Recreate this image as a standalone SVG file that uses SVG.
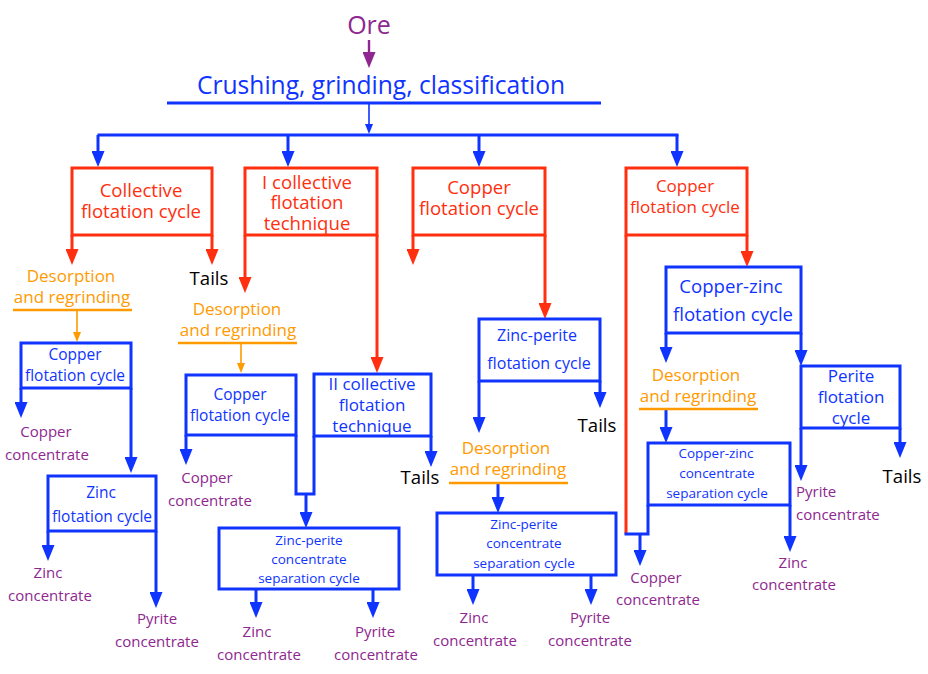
<svg xmlns="http://www.w3.org/2000/svg" width="928" height="674" viewBox="0 0 928 674">
<defs>
<style>
text{font-family:"Open Sans","Noto Sans","DejaVu Sans",sans-serif;text-anchor:middle}
.red{stroke:#FF2F0F;stroke-width:3;fill:none}
.blue{stroke:#1034FF;stroke-width:3;fill:none}
.bthin{stroke:#1034FF;stroke-width:1.6;fill:none}
.org{stroke:#FF9A00;stroke-width:2.6;fill:none}
.othin{stroke:#FF9A00;stroke-width:1.6;fill:none}
.pur{stroke:#8E278F;stroke-width:2.4;fill:none}
.tr{fill:#FF2F0F}
.tb{fill:#1034FF}
.to{fill:#FF9A00}
.tp{fill:#8E278F}
.tk{fill:#000}
.f19{font-size:18.6px}
.f17{font-size:17px}
.f16{font-size:16px}
.f15{font-size:15.5px}
.f13{font-size:13.5px}
.f15p{font-size:15px}
</style>
<marker id="ab" markerUnits="userSpaceOnUse" markerWidth="16" markerHeight="13" viewBox="0 0 16 13" refX="10" refY="6.5" orient="auto"><path d="M0,0 L16,6.5 L0,13 z" fill="#1034FF"/></marker>
<marker id="ar" markerUnits="userSpaceOnUse" markerWidth="16" markerHeight="13" viewBox="0 0 16 13" refX="10" refY="6.5" orient="auto"><path d="M0,0 L16,6.5 L0,13 z" fill="#FF2F0F"/></marker>
<marker id="ap" markerUnits="userSpaceOnUse" markerWidth="16" markerHeight="13" viewBox="0 0 16 13" refX="10" refY="6.5" orient="auto"><path d="M0,0 L16,6.5 L0,13 z" fill="#8E278F"/></marker>
<marker id="abs" markerUnits="userSpaceOnUse" markerWidth="10" markerHeight="8" viewBox="0 0 10 8" refX="6" refY="4" orient="auto"><path d="M0,0 L10,4 L0,8 z" fill="#1034FF"/></marker>
<marker id="aos" markerUnits="userSpaceOnUse" markerWidth="10" markerHeight="8" viewBox="0 0 10 8" refX="6" refY="4" orient="auto"><path d="M0,0 L10,4 L0,8 z" fill="#FF9A00"/></marker>
</defs>
<rect width="928" height="674" fill="#fff"/>

<g id="connectors">
<path class="pur" d="M369,40 V62" marker-end="url(#ap)"/>
<path class="bthin" d="M369,103 V130" marker-end="url(#abs)"/>
<path class="blue" d="M97.5,135 H678.5"/>
<path class="blue" d="M98,135 V161" marker-end="url(#ab)"/>
<path class="blue" d="M288,135 V161" marker-end="url(#ab)"/>
<path class="blue" d="M479,135 V161" marker-end="url(#ab)"/>
<path class="blue" d="M677,135 V161" marker-end="url(#ab)"/>
<path class="red" d="M72,235 V259" marker-end="url(#ar)"/>
<path class="red" d="M212,235 V259" marker-end="url(#ar)"/>
<path class="othin" d="M77,310 V338" marker-end="url(#aos)"/>
<path class="blue" d="M21,388 V412" marker-end="url(#ab)"/>
<path class="blue" d="M131,388 V467" marker-end="url(#ab)"/>
<path class="blue" d="M48,531 V555" marker-end="url(#ab)"/>
<path class="blue" d="M156,531 V602" marker-end="url(#ab)"/>
<path class="red" d="M245,235 V287" marker-end="url(#ar)"/>
<path class="red" d="M377,235 V367" marker-end="url(#ar)"/>
<path class="othin" d="M241,343 V369" marker-end="url(#aos)"/>
<path class="blue" d="M186,435 V459" marker-end="url(#ab)"/>
<path class="blue" d="M431,436 V461" marker-end="url(#ab)"/>
<path class="blue" d="M296,435 V494 H314 V436"/>
<path class="blue" d="M306,494 V522" marker-end="url(#ab)"/>
<path class="blue" d="M256,589 V612" marker-end="url(#ab)"/>
<path class="blue" d="M373,589 V612" marker-end="url(#ab)"/>
<path class="red" d="M413,235 V259" marker-end="url(#ar)"/>
<path class="red" d="M545,235 V313" marker-end="url(#ar)"/>
<path class="blue" d="M479,381 V427" marker-end="url(#ab)"/>
<path class="blue" d="M600,381 V402" marker-end="url(#ab)"/>
<path class="blue" d="M498,483 V507" marker-end="url(#ab)"/>
<path class="blue" d="M473,575 V599" marker-end="url(#ab)"/>
<path class="blue" d="M591,575 V599" marker-end="url(#ab)"/>
<path class="red" d="M626,235 V534"/>
<path class="blue" d="M624.5,534 H648 V505"/>
<path class="blue" d="M640,534 V560" marker-end="url(#ab)"/>
<path class="red" d="M747,235 V261" marker-end="url(#ar)"/>
<path class="blue" d="M666,333 V357" marker-end="url(#ab)"/>
<path class="blue" d="M801,333 V360" marker-end="url(#ab)"/>
<path class="blue" d="M666,409 V437" marker-end="url(#ab)"/>
<path class="blue" d="M790,505 V546" marker-end="url(#ab)"/>
<path class="blue" d="M801,428 V475" marker-end="url(#ab)"/>
<path class="blue" d="M900,428 V452" marker-end="url(#ab)"/>
</g>

<g id="ore"><text class="tp" x="369" y="34" font-size="25">Ore</text></g>
<g id="crushing">
<text class="tb" x="381" y="94" font-size="24.6">Crushing, grinding, classification</text>
<path class="blue" d="M167,103 H601"/>
</g>

<g id="collective-flotation-cycle">
<rect class="red" x="72" y="168" width="140" height="67"/>
<text class="tr f19" x="141" y="197">Collective</text>
<text class="tr f19" x="141" y="218">flotation cycle</text>
</g>
<g id="tails1"><text class="tk f19" x="209" y="285">Tails</text></g>
<g id="desorption1">
<text class="to f17" x="71" y="282">Desorption</text>
<text class="to f17" x="72" y="303">and regrinding</text>
<path class="org" d="M13,310 H132"/>
</g>
<g id="copper-flotation-a">
<rect class="blue" x="21" y="343" width="110" height="45"/>
<text class="tb f15" x="75" y="360">Copper</text>
<text class="tb f15" x="75" y="381">flotation cycle</text>
</g>
<g id="copper-conc-a">
<text class="tp f15p" x="46" y="437">Copper</text>
<text class="tp f15p" x="47" y="460">concentrate</text>
</g>
<g id="zinc-flotation-a">
<rect class="blue" x="48" y="476" width="108" height="55"/>
<text class="tb f15" x="101" y="498">Zinc</text>
<text class="tb f15" x="102" y="522">flotation cycle</text>
</g>
<g id="zinc-conc-a">
<text class="tp f15p" x="48" y="578">Zinc</text>
<text class="tp f15p" x="50" y="601">concentrate</text>
</g>
<g id="pyrite-conc-a">
<text class="tp f15p" x="157" y="624">Pyrite</text>
<text class="tp f15p" x="157" y="647">concentrate</text>
</g>

<g id="i-collective">
<rect class="red" x="245" y="168" width="132" height="67"/>
<text class="tr f19" x="307" y="189">I collective</text>
<text class="tr f19" x="307" y="209">flotation</text>
<text class="tr f19" x="307" y="230">technique</text>
</g>
<g id="desorption2">
<text class="to f17" x="237" y="315">Desorption</text>
<text class="to f17" x="238" y="336">and regrinding</text>
<path class="org" d="M178,343 H297"/>
</g>
<g id="copper-flotation-b">
<rect class="blue" x="186" y="375" width="110" height="60"/>
<text class="tb f15" x="240" y="400">Copper</text>
<text class="tb f15" x="240" y="421">flotation cycle</text>
</g>
<g id="copper-conc-b">
<text class="tp f15p" x="207" y="483">Copper</text>
<text class="tp f15p" x="210" y="506">concentrate</text>
</g>
<g id="ii-collective">
<rect class="blue" x="314" y="374" width="117" height="62"/>
<text class="tb f17" x="372" y="390">II collective</text>
<text class="tb f17" x="372" y="411">flotation</text>
<text class="tb f17" x="372" y="432">technique</text>
</g>
<g id="tails2"><text class="tk f19" x="420" y="484">Tails</text></g>
<g id="zinc-perite-sep-a">
<rect class="blue" x="219" y="528" width="180" height="61"/>
<text class="tb f13" x="309" y="545">Zinc-perite</text>
<text class="tb f13" x="309" y="564">concentrate</text>
<text class="tb f13" x="309" y="583">separation cycle</text>
</g>
<g id="zinc-conc-b">
<text class="tp f15p" x="257" y="637">Zinc</text>
<text class="tp f15p" x="259" y="660">concentrate</text>
</g>
<g id="pyrite-conc-b">
<text class="tp f15p" x="375" y="637">Pyrite</text>
<text class="tp f15p" x="376" y="660">concentrate</text>
</g>

<g id="copper-flotation-3">
<rect class="red" x="413" y="168" width="132" height="67"/>
<text class="tr f19" x="479" y="194">Copper</text>
<text class="tr f19" x="479" y="215">flotation cycle</text>
</g>
<g id="zinc-perite-flotation">
<rect class="blue" x="479" y="319" width="121" height="62"/>
<text class="tb f16" x="537" y="341">Zinc-perite</text>
<text class="tb f16" x="539" y="369">flotation cycle</text>
</g>
<g id="tails3"><text class="tk f19" x="597" y="432">Tails</text></g>
<g id="desorption3">
<text class="to f17" x="506" y="454">Desorption</text>
<text class="to f17" x="508" y="475">and regrinding</text>
<path class="org" d="M449,483 H568"/>
</g>
<g id="zinc-perite-sep-b">
<rect class="blue" x="437" y="513" width="179" height="62"/>
<text class="tb f13" x="524" y="529">Zinc-perite</text>
<text class="tb f13" x="524" y="548">concentrate</text>
<text class="tb f13" x="524" y="568">separation cycle</text>
</g>
<g id="zinc-conc-c">
<text class="tp f15p" x="474" y="623">Zinc</text>
<text class="tp f15p" x="475" y="646">concentrate</text>
</g>
<g id="pyrite-conc-c">
<text class="tp f15p" x="590" y="623">Pyrite</text>
<text class="tp f15p" x="590" y="646">concentrate</text>
</g>

<g id="copper-flotation-4">
<rect class="red" x="626" y="168" width="121" height="67"/>
<text class="tr f17" x="685" y="192">Copper</text>
<text class="tr f17" x="685" y="213">flotation cycle</text>
</g>
<g id="copper-zinc-flotation">
<rect class="blue" x="666" y="267" width="135" height="66"/>
<text class="tb f19" x="731" y="293">Copper-zinc</text>
<text class="tb f19" x="733" y="321">flotation cycle</text>
</g>
<g id="desorption4">
<text class="to f17" x="696" y="381">Desorption</text>
<text class="to f17" x="698" y="402">and regrinding</text>
<path class="org" d="M639,409 H758"/>
</g>
<g id="copper-zinc-sep">
<rect class="blue" x="648" y="443" width="142" height="62"/>
<text class="tb f13" x="716" y="458">Copper-zinc</text>
<text class="tb f13" x="717" y="478">concentrate</text>
<text class="tb f13" x="717" y="498">separation cycle</text>
</g>
<g id="perite-flotation">
<rect class="blue" x="801" y="366" width="99" height="62"/>
<text class="tb f17" x="851" y="382">Perite</text>
<text class="tb f17" x="851" y="403">flotation</text>
<text class="tb f17" x="851" y="424">cycle</text>
</g>
<g id="pyrite-conc-d">
<text class="tp f15p" x="796" y="497" style="text-anchor:start">Pyrite</text>
<text class="tp f15p" x="796" y="520" style="text-anchor:start">concentrate</text>
</g>
<g id="tails4"><text class="tk f19" x="902" y="483">Tails</text></g>
<g id="zinc-conc-d">
<text class="tp f15p" x="793" y="568">Zinc</text>
<text class="tp f15p" x="794" y="590">concentrate</text>
</g>
<g id="copper-conc-d">
<text class="tp f15p" x="656" y="583">Copper</text>
<text class="tp f15p" x="658" y="605">concentrate</text>
</g>
</svg>
